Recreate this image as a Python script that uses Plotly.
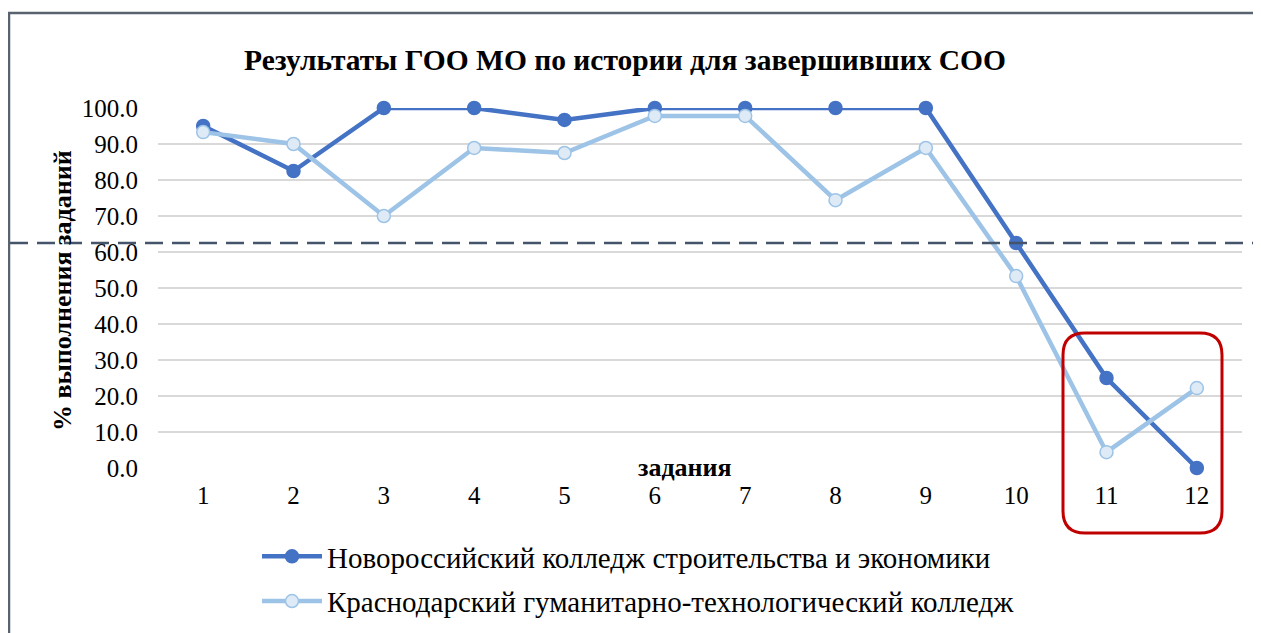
import plotly.graph_objects as go

categories = ["1", "2", "3", "4", "5", "6", "7", "8", "9", "10", "11", "12"]
series1_name = "Новороссийский колледж строительства и экономики"
series1 = [95.0, 82.5, 100.0, 100.0, 96.7, 100.0, 100.0, 100.0, 100.0, 62.5, 25.0, 0.0]
series2_name = "Краснодарский гуманитарно-технологический колледж"
series2 = [93.3, 90.0, 70.0, 88.9, 87.5, 97.8, 97.8, 74.4, 88.9, 53.3, 4.4, 22.2]
threshold = 62.5
y_ticks = [0, 10, 20, 30, 40, 50, 60, 70, 80, 90, 100]

OFF = 8  # page body margin
W, H = 1261 - OFF, 633 - OFF
# plot area in screenshot pixels: x 158..1242, y 108..468
L, R, T, B = 158 - OFF, 1261 - 1242, 108 - OFF, 633 - 468
PW, PH = W - L - R, H - T - B

def px(x):
    return (x - OFF - L) / PW

def py(y):
    return (T + PH - (y - OFF)) / PH

FONT = "'Liberation Serif', 'DejaVu Serif', 'Times New Roman', serif"

fig = go.Figure()
fig.add_trace(go.Scatter(
    x=categories, y=series1, name=series1_name, mode="lines+markers",
    line=dict(color="#4472C4", width=4.5), legendgroup="a",
    marker=dict(color="#4472C4", size=13, line=dict(color="#4472C4", width=1.5)),
    cliponaxis=False,
))
fig.add_trace(go.Scatter(
    x=categories, y=series2, name=series2_name, mode="lines+markers",
    line=dict(color="#9DC3E6", width=4.5), legendgroup="b",
    marker=dict(color="#DEEBF7", size=13, line=dict(color="#9DC3E6", width=1.5)),
    cliponaxis=False,
))

# dashed threshold line
fig.add_shape(type="line", xref="paper", yref="y",
              x0=px(10), x1=px(1265), y0=threshold, y1=threshold,
              line=dict(color="#44546A", width=2.5, dash="18px,9px"))

# outer frame
fig.add_shape(type="rect", xref="paper", yref="paper",
              x0=px(9), x1=px(1258), y0=py(13), y1=py(660),
              line=dict(color="#59636F", width=2.5))

# red rounded box
x0, x1, y0, y1, r = 1063, 1222, 333, 533, 22
path = (
    f"M {px(x0 + r)} {py(y0)} L {px(x1 - r)} {py(y0)} "
    f"Q {px(x1)} {py(y0)} {px(x1)} {py(y0 + r)} "
    f"L {px(x1)} {py(y1 - r)} "
    f"Q {px(x1)} {py(y1)} {px(x1 - r)} {py(y1)} "
    f"L {px(x0 + r)} {py(y1)} "
    f"Q {px(x0)} {py(y1)} {px(x0)} {py(y1 - r)} "
    f"L {px(x0)} {py(y0 + r)} "
    f"Q {px(x0)} {py(y0)} {px(x0 + r)} {py(y0)} Z"
)
fig.add_shape(type="path", xref="paper", yref="paper", path=path,
              line=dict(color="#C00000", width=3))

# x axis title
fig.add_annotation(text="<b>задания</b>", xref="paper", yref="paper",
                   x=px(685), y=py(467), xanchor="center", yanchor="middle",
                   showarrow=False,
                   font=dict(family=FONT, size=26, color="black"))

# y axis title
fig.add_annotation(text="<b>% выполнения заданий</b>", xref="paper", yref="paper",
                   x=px(62), y=py(291), xanchor="center", yanchor="middle",
                   showarrow=False, textangle=-90,
                   font=dict(family=FONT, size=26, color="black"))

fig.update_layout(
    width=W, height=H,
    margin=dict(l=L, r=R, t=T, b=B, autoexpand=False),
    paper_bgcolor="white", plot_bgcolor="white",
    title=dict(text="<b>Результаты ГОО МО по истории для завершивших СОО</b>",
               xref="container", x=(625 - OFF) / W, xanchor="center",
               y=1 - (60 - OFF) / H, yanchor="middle",
               font=dict(family=FONT, size=29.5, color="black")),
    font=dict(family=FONT, color="black"),
    showlegend=True,
    legend=dict(orientation="v", x=px(257), xanchor="left", y=py(531), yanchor="top",
                font=dict(family=FONT, size=29, color="black"),
                tracegroupgap=4, itemwidth=60, bgcolor="rgba(0,0,0,0)"),
    xaxis=dict(type="category", range=[-0.5, 11.5], showgrid=False, showline=False,
               zeroline=False, ticks="outside", ticklen=5, tickcolor="rgba(0,0,0,0)",
               tickfont=dict(family=FONT, size=25, color="black")),
    yaxis=dict(range=[0, 100], tickvals=y_ticks, tickformat=".1f",
               showgrid=True, gridcolor="#D9D9D9", gridwidth=1.5, zeroline=False,
               showline=False, ticks="outside", ticklen=14, tickcolor="rgba(0,0,0,0)",
               tickfont=dict(family=FONT, size=25, color="black")),
)

fig.write_html("out.html")
